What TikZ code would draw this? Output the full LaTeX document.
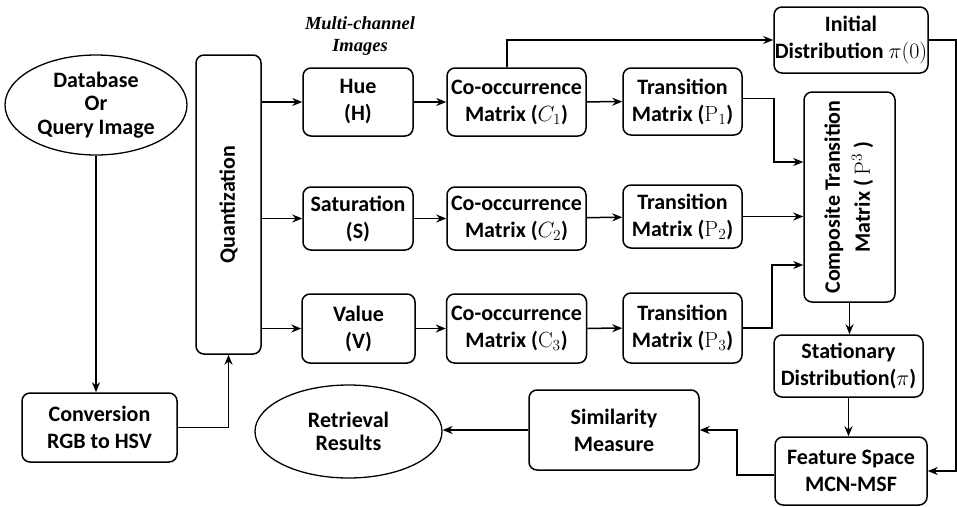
\RequirePackage{fix-cm}
\documentclass[tikz,border=0pt]{standalone}
\usepackage[no-math]{fontspec}
\usepackage{graphicx}
\setmainfont{Carlito}
\newfontfamily\notefont{Liberation Serif}
\usetikzlibrary{arrows.meta,positioning,shapes.geometric}

\begin{document}
\begin{tikzpicture}[x = 1pt, y = -1pt,
		box/.style = {rectangle, rounded corners = 8pt, draw, line width = 1.5pt, align = center, inner sep = 0pt, font = \bfseries\fontsize{22}{27}\selectfont},
		oval/.style = {ellipse, draw, line width = 1.3pt, align = center, inner sep = 0pt, font = \bfseries\fontsize{22}{23.5}\selectfont},
		note/.style = {align = center, font = \notefont\bfseries\itshape\fontsize{18.5}{22}\selectfont},
		pathstyle/.style = {-{Stealth[length = 10pt, width = 8pt]}, line width = 1.5pt}]
		\useasboundingbox (0,0) rectangle (957,506);
		% Input side
		\node (input) at (96,105) [oval, minimum width = 182pt, minimum height = 100pt] {Database\\ Or\\ Query Image};
		\node (convert) at (99.5,427.5) [box, minimum width = 155pt, minimum height = 69pt] {Conversion\\ RGB to HSV};
		\node (quant) at (228.5,204.5) [box, minimum width = 65pt, minimum height = 299pt] {\rotatebox{90}{Quantization}};
		\node (chan) at (360,36) [note] {Multi-channel\\ Images};
		% Channels
		\node (hue) at (358,102) [box, minimum width = 110pt, minimum height = 68pt] {Hue\\ (H)};
		\node (sat) at (358,218.5) [box, minimum width = 110pt, minimum height = 63pt] {Saturation\\ (S)};
		\node (val) at (358.5,328.5) [box, minimum width = 113pt, minimum height = 69pt] {Value\\ (V)};
		\node (cooc1) at (516.5,102) [box, minimum width = 139pt, minimum height = 68pt] {Co-occurrence\\ Matrix ($C_1$)};
		\node (cooc2) at (516.5,218.5) [box, minimum width = 139pt, minimum height = 63pt] {Co-occurrence\\ Matrix ($C_2$)};
		\node (cooc3) at (516.5,328.5) [box, minimum width = 140pt, minimum height = 69pt] {Co-occurrence\\ Matrix ($\mathrm{C}_3$)};
		\node (trans1) at (682.5,101.5) [box, minimum width = 119pt, minimum height = 67pt] {Transition\\ Matrix ($\mathrm{P}_1$)};
		\node (trans2) at (682.5,216.5) [box, minimum width = 119pt, minimum height = 63pt] {Transition\\ Matrix ($\mathrm{P}_2$)};
		\node (trans3) at (682.5,328) [box, minimum width = 119pt, minimum height = 70pt] {Transition\\ Matrix ($\mathrm{P}_3$)};
		% Right column
		\node (init) at (851,40) [box, minimum width = 154pt, minimum height = 66pt] {Initial\\ Distribution $\pi(0)$};
		\node (comp) at (849.5,197) [box, minimum width = 91pt, minimum height = 210pt] {\rotatebox{90}{\begin{tabular}{@{}c@{}}Composite Transition\\[3pt] Matrix ( $\mathrm{P}^3$ )\end{tabular}}};
		\node (stat) at (848.5,366) [box, minimum width = 149pt, minimum height = 62pt] {Stationary\\ Distribution($\pi$)};
		\node (feat) at (851,471) [box, minimum width = 152pt, minimum height = 68pt] {Feature Space\\ MCN-MSF};
		\node (sim) at (614,430) [box, minimum width = 170pt, minimum height = 80pt] {Similarity\\ Measure};
		\node (ret) at (348.5,431.5) [oval, minimum width = 187pt, minimum height = 93pt] {Retrieval\\ Results};
		% Bends
		\coordinate (bend1) at (774,162);
		\coordinate (bend3) at (772,265);
		\coordinate (bend4) at (737,430);
		% Paths
		\draw [pathstyle] (input.south) -- (input.south |- convert.north);
		\draw [pathstyle] (convert.east) -| (quant.south);
		\draw [pathstyle] (quant.east |- hue) -- (hue);
		\draw [pathstyle] (quant.east |- sat) -- (sat);
		\draw [pathstyle] (quant.east |- val) -- (val);
		\draw [pathstyle] (hue) -- (cooc1);
		\draw [pathstyle] (sat) -- (cooc2);
		\draw [pathstyle] (val) -- (cooc3);
		\draw [pathstyle] (cooc1) -- (trans1);
		\draw [pathstyle] (cooc2) -- (trans2);
		\draw [pathstyle] (cooc3) -- (trans3);
		\draw [pathstyle] ([xshift = -9.5pt]cooc1.north) |- (init.west);
		\draw [pathstyle] ([yshift = 3pt]trans1.east) -| (bend1) -- (bend1 -| comp.west);
		\draw [pathstyle] (trans2) -- (trans2 -| comp.west);
		\draw [pathstyle] (trans3.east) -| (bend3) -- (bend3 -| comp.west);
		\draw [pathstyle] (comp.south) -- (comp.south |- stat.north);
		\draw [pathstyle] (stat.south) -- (stat.south |- feat.north);
		\draw [pathstyle] (init.east) -- ++(27,0) |- (feat.east);
		\draw [pathstyle] ([yshift = -4pt]feat.west) -| (bend4) -- (sim.east);
		\draw [pathstyle] (sim.west) -- (sim.west -| ret.east);
	\end{tikzpicture}
\end{document}
